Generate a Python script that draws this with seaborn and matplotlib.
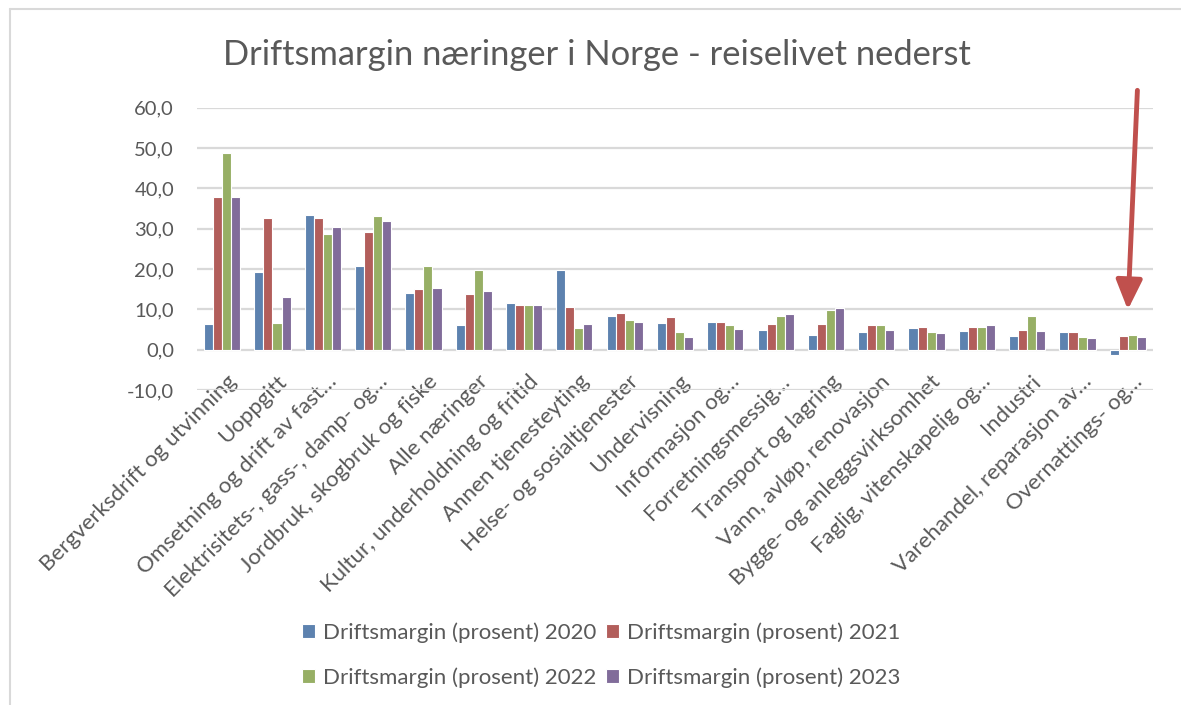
import matplotlib
matplotlib.use("Agg")
import matplotlib.pyplot as plt
import matplotlib.transforms as mtransforms
import seaborn as sns
import pandas as pd

categories = [
    "Bergverksdrift og utvinning", "Uoppgitt", "Omsetning og drift av fast…",
    "Elektrisitets-, gass-, damp- og…", "Jordbruk, skogbruk og fiske", "Alle næringer",
    "Kultur, underholdning og fritid", "Annen tjenesteyting", "Helse- og sosialtjenester",
    "Undervisning", "Informasjon og…", "Forretningsmessig…", "Transport og lagring",
    "Vann, avløp, renovasjon", "Bygge- og anleggsvirksomhet", "Faglig, vitenskapelig og…",
    "Industri", "Varehandel, reparasjon av…", "Overnattings- og…",
]
series_names = [
    "Driftsmargin (prosent) 2020", "Driftsmargin (prosent) 2021",
    "Driftsmargin (prosent) 2022", "Driftsmargin (prosent) 2023",
]
v2020 = [6.4, 19.2, 33.3, 20.8, 14.1, 6.2, 11.6, 19.7, 8.4, 6.5, 6.8, 5.0, 3.7, 4.5, 5.3, 4.6, 3.3, 4.3, -1.4]
v2021 = [37.9, 32.7, 32.6, 29.1, 15.0, 13.8, 11.2, 10.7, 9.0, 8.0, 6.8, 6.4, 6.3, 6.0, 5.7, 5.7, 5.0, 4.3, 3.4]
v2022 = [48.8, 6.5, 28.6, 33.1, 20.8, 19.7, 11.2, 5.4, 7.3, 4.5, 6.0, 8.4, 9.9, 6.0, 4.5, 5.5, 8.4, 3.2, 3.7]
v2023 = [37.9, 13.0, 30.3, 31.8, 15.4, 14.5, 11.0, 6.4, 6.9, 3.1, 5.2, 8.8, 10.4, 5.0, 4.1, 6.0, 4.6, 3.0, 3.2]
y_ticks = [-10, 0, 10, 20, 30, 40, 50, 60]
y_tick_labels = ["-10,0", "0,0", "10,0", "20,0", "30,0", "40,0", "50,0", "60,0"]
title = "Driftsmargin næringer i Norge - reiselivet nederst"

colors = ["#4F81BD", "#C0504D", "#9BBB59", "#8064A2"]
text_color = "#595959"

rows = []
for name, vals in zip(series_names, [v2020, v2021, v2022, v2023]):
    for c, v in zip(categories, vals):
        rows.append({"kategori": c, "serie": name, "verdi": v})
df = pd.DataFrame(rows)

sns.set_theme(style="white")
plt.rcParams["font.family"] = ["Lato", "DejaVu Sans"]

W, H = 1181, 705
fig = plt.figure(figsize=(W / 100, H / 100), dpi=100)
ax = fig.add_axes([197 / W, 1 - 390 / H, (1153 - 197) / W, (390 - 107.7) / H])

sns.barplot(data=df, x="kategori", y="verdi", hue="serie", order=categories,
            hue_order=series_names, palette=colors, width=0.72,
            edgecolor="white", linewidth=0.8, ax=ax, legend=True)

ax.set_ylim(-10, 60)
ax.set_xlim(-0.5, len(categories) - 0.5)
ax.set_yticks(y_ticks)
ax.set_yticklabels(y_tick_labels)
ax.yaxis.grid(True, color="#D9D9D9", linewidth=1.6)
ax.set_axisbelow(True)
for s in ax.spines.values():
    s.set_visible(False)
ax.set_xlabel("")
ax.set_ylabel("")
ax.tick_params(axis="y", length=0, pad=16.5, labelsize=14.5, labelcolor=text_color)
ax.tick_params(axis="x", length=0, pad=-13.5, labelsize=16, labelcolor=text_color)
ax.set_xticks(range(len(categories)))
ax.set_xticklabels(categories, rotation=45, ha="right", va="top", rotation_mode="anchor")
offset = mtransforms.ScaledTranslation(4 / 100, 0, fig.dpi_scale_trans)
for lab in ax.get_xticklabels():
    lab.set_transform(lab.get_transform() + offset)

# Legend (row-major order like the original)
handles, labels = ax.get_legend_handles_labels()
ax.get_legend().remove()
order = [0, 2, 1, 3]
fig.legend([handles[i] for i in order], [labels[i] for i in order], ncol=2, loc="center",
           bbox_to_anchor=(601 / W, 1 - 655 / H),
           frameon=False, fontsize=16, labelcolor=text_color, handlelength=0.6,
           handleheight=0.6, handletextpad=0.34, columnspacing=0.45, labelspacing=1.1)

fig.text(597 / W, 1 - 55 / H, title, ha="center", va="center", fontsize=24.8, color=text_color)

# Arrow pointing at the last category
ax.annotate("", xy=(18.0, 9.9), xytext=(18.19, 64.3),
            arrowprops=dict(arrowstyle="-|>,head_length=0.9,head_width=0.4", lw=3.5,
                            color="#C0504D", mutation_scale=20, shrinkA=0, shrinkB=0),
            annotation_clip=False)

# chart area border (top and left visible)
fig.add_artist(plt.Line2D([10 / W, 10 / W], [0, 1 - 9 / H], transform=fig.transFigure,
                          color="#D9D9D9", linewidth=1.5))
fig.add_artist(plt.Line2D([10 / W, 1], [1 - 9 / H, 1 - 9 / H], transform=fig.transFigure,
                          color="#D9D9D9", linewidth=1.5))

fig.savefig("out.png", dpi=100, facecolor="white")
